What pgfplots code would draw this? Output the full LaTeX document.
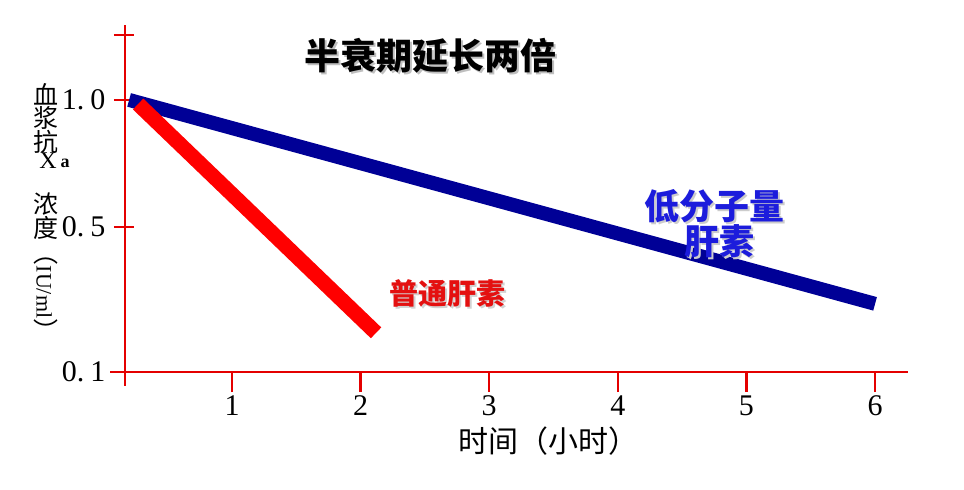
\documentclass[border=0pt]{standalone}
\usepackage{pgfplots}
\pgfplotsset{compat=1.18}
\usepackage{fontspec}
\setmainfont{Liberation Serif}
\newfontfamily\cjk{Noto Sans CJK SC}

\definecolor{axred}{RGB}{228,0,0}
\definecolor{lmwh}{RGB}{0,0,150}
\definecolor{ufh}{RGB}{255,0,0}
\definecolor{lblblue}{RGB}{28,28,220}
\definecolor{lblred}{RGB}{228,16,16}

% text with a soft grey drop shadow, set in one box
\newcommand{\shadowed}[3]{%
  \rlap{\hspace{2pt}\raisebox{-2pt}{\color{#1}#3}}{\color{#2}#3}}

\begin{document}
\begin{tikzpicture}[x=1pt,y=1pt]
\useasboundingbox (0,0) rectangle (964,490);
\begin{axis}[
  at={(125pt,118pt)}, anchor=south west,
  scale only axis, width=783pt, height=347pt,
  xmin=0.168, xmax=6.256, ymin=0.1, ymax=1.295,
  % the concentration scale is stretched differently below and above 0.5
  y coord trafo/.code={\pgfmathparse{#1<=0.5 ? (#1-0.1)*362.5 : 145+(#1-0.5)*254}},
  y coord inv trafo/.code={\pgfmathparse{#1<=145 ? #1/362.5+0.1 : (#1-145)/254+0.5}},
  axis x line=bottom, axis y line=left,
  axis line style={-, axred, line width=2.8pt},
  xtick={1,2,3,4,5,6}, xticklabels={1,2,3,4,5,6},
  ytick={0.1,0.5,1.0,1.256}, yticklabels={{0.\kern6pt 1},{0.\kern6pt 5},{1.\kern6pt 0},{}},
  tick align=outside, major tick length=20pt,
  tick style={axred, line width=2.4pt},
  every major y tick/.append style={xshift=9pt},
  tick label style={font=\fontsize{30}{31}\selectfont, text=black},
  yticklabel style={xshift=4pt},
  clip=false,
]
\addplot[lmwh, line width=14pt] coordinates {(0.2,1.0) (6.0,0.288)};
\addplot[ufh, line width=15pt] coordinates {(0.27,0.984) (2.12,0.208)};
\end{axis}

% axis stubs beyond the origin
\draw[axred, line width=2.8pt] (110,118) -- (125,118);
\draw[axred, line width=2.8pt] (125,118) -- (125,104);

% title
\node[font=\cjk\bfseries\fontsize{36}{38}\selectfont] at (430,433)
  {\shadowed{gray!50}{black}{半衰期延长两倍}};

% curve labels
\node[inner sep=0pt, font=\cjk\bfseries\fontsize{35}{36}\selectfont] at (714,283)
  {\shadowed{gray!40}{lblblue}{低分子量}};
\node[inner sep=0pt, font=\cjk\bfseries\fontsize{35}{36}\selectfont] at (719,248)
  {\shadowed{gray!40}{lblblue}{肝素}};
\node[font=\cjk\bfseries\fontsize{29}{30}\selectfont] at (447,196)
  {\shadowed{gray!35}{lblred}{普通肝素}};

% x axis title
\node[font=\cjk\fontsize{30}{32}\selectfont] at (548,49) {时间（小时）};

% y axis title, stacked
\begin{scope}[every node/.style={font=\cjk\fontsize{25}{26}\selectfont, inner sep=0pt}]
\node at (46,396) {血};
\node at (46,372) {浆};
\node at (46,348) {抗};
\node[font=\fontsize{24}{26}\selectfont] at (48,329) {X};
\node[font=\bfseries\fontsize{18}{19}\selectfont] at (65,327) {a};
\node at (46,286) {浓};
\node at (46,262) {度};
\node[rotate=-90] at (46,198) {（{\rmfamily\fontsize{22}{24}\selectfont IU/ml}）};
\end{scope}
\end{tikzpicture}
\end{document}
